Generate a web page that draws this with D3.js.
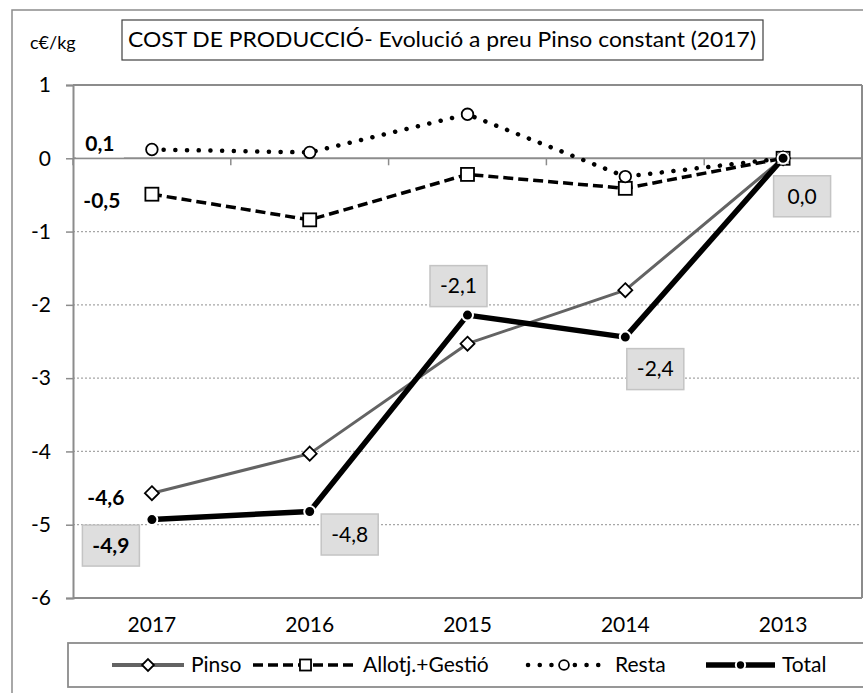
<!DOCTYPE html>
<html>
<head>
<meta charset="utf-8">
<script src="https://cdn.jsdelivr.net/npm/d3@7"></script>
<style>
  html, body { margin: 0; padding: 0; background: #fff; }
  svg { display: block; font-family: Lato, "Open Sans", sans-serif; }
</style>
</head>
<body>
<svg id="chart" width="863" height="693"></svg>
<script>
// ---- Data ----
const categories = ["2017", "2016", "2015", "2014", "2013"];
const pinso  = [-4.57, -4.03, -2.53, -1.80, 0.0];
const allotj = [-0.49, -0.84, -0.22, -0.41, 0.0];
const resta  = [0.12, 0.08, 0.60, -0.25, 0.0];
const total  = [-4.93, -4.82, -2.14, -2.44, 0.0];
const yTicks = [1, 0, -1, -2, -3, -4, -5, -6];
const seriesNames = ["Pinso", "Allotj.+Gestió", "Resta", "Total"];
const titleText = "COST DE PRODUCCIÓ- Evolució a preu Pinso constant (2017)";
const unitText = "c€/kg";

// ---- Layout ----
const svg = d3.select("#chart");
const plot = { left: 73, right: 862, top: 85, bottom: 598 };

const x = d3.scaleBand().domain(categories).range([plot.left, plot.right]).paddingInner(0).paddingOuter(0);
const cx = c => x(c) + x.bandwidth() / 2;
const y = d3.scaleLinear().domain([-6, 1]).range([plot.bottom, plot.top]);

const fmt = v => d3.format(".1f")(v).replace(".", ",").replace("−", "-");

// outer border
svg.append("rect").attr("x", 12).attr("y", 10).attr("width", 900).attr("height", 720)
  .attr("fill", "none").attr("stroke", "#8c8c8c").attr("stroke-width", 1.5);

// title box
svg.append("rect").attr("x", 122).attr("y", 20).attr("width", 641).attr("height", 40)
  .attr("fill", "#fff").attr("stroke", "#404040").attr("stroke-width", 1.2);
svg.append("text").attr("x", 128).attr("y", 40).attr("dy", "0.35em")
  .attr("font-size", 21).attr("textLength", 628).attr("lengthAdjust", "spacingAndGlyphs")
  .attr("fill", "#000").text(titleText);

// unit label
svg.append("text").attr("x", 30).attr("y", 43).attr("dy", "0.35em")
  .attr("font-size", 18).attr("fill", "#000").text(unitText);

// gridlines (dotted) for interior ticks
const gridG = svg.append("g");
yTicks.filter(t => t !== 0 && t !== 1 && t !== -6).forEach(t => {
  gridG.append("line").attr("x1", plot.left).attr("x2", plot.right)
    .attr("y1", y(t)).attr("y2", y(t))
    .attr("stroke", "#a6a6a6").attr("stroke-width", 1.2).attr("stroke-dasharray", "2,2");
});
// top and bottom solid lines
[1, -6].forEach(t => {
  gridG.append("line").attr("x1", plot.left).attr("x2", plot.right)
    .attr("y1", y(t)).attr("y2", y(t))
    .attr("stroke", "#8c8c8c").attr("stroke-width", 2);
});
// right border
gridG.append("line").attr("x1", plot.right).attr("x2", plot.right)
  .attr("y1", y(1)).attr("y2", y(-6)).attr("stroke", "#8c8c8c").attr("stroke-width", 2);

// y axis
const yAxis = d3.axisLeft(y).tickValues(yTicks).tickSize(7).tickFormat(d => String(d).replace("−", "-"));
const yAxisG = svg.append("g").attr("transform", `translate(${plot.left},0)`).call(yAxis);
yAxisG.select(".domain").attr("stroke", "#8c8c8c").attr("stroke-width", 2);
yAxisG.selectAll(".tick line").attr("stroke", "#8c8c8c").attr("stroke-width", 1.5);
yAxisG.selectAll(".tick text").attr("font-size", 21).attr("font-family", "Lato").attr("fill", "#000")
  .attr("x", -22);

// x axis at 0 with boundary ticks
const xAxisLine = svg.append("g");
xAxisLine.append("line").attr("x1", plot.left).attr("x2", plot.right)
  .attr("y1", y(0)).attr("y2", y(0)).attr("stroke", "#8c8c8c").attr("stroke-width", 2);
categories.forEach(c => {
  xAxisLine.append("line").attr("x1", x(c)).attr("x2", x(c))
    .attr("y1", y(0)).attr("y2", y(0) + 7).attr("stroke", "#8c8c8c").attr("stroke-width", 1.5);
});
// category labels at bottom
const xAxis = d3.axisBottom(x).tickSize(0);
const xAxisG = svg.append("g").attr("transform", `translate(0,${plot.bottom})`).call(xAxis);
xAxisG.select(".domain").remove();
xAxisG.selectAll(".tick text").attr("font-size", 21).attr("font-family", "Lato").attr("fill", "#000")
  .attr("y", 19);

// ---- Series ----
const seriesData = [
  { name: seriesNames[0], values: pinso },
  { name: seriesNames[1], values: allotj },
  { name: seriesNames[2], values: resta },
  { name: seriesNames[3], values: total }
];
const styles = {
  "Pinso": { stroke: "#636363", width: 3, dash: null, cap: "butt" },
  "Allotj.+Gestió": { stroke: "#000", width: 3.5, dash: "10,5", cap: "butt" },
  "Resta": { stroke: "#000", width: 4.5, dash: "0.1,11.6", cap: "round" },
  "Total": { stroke: "#000", width: 5.5, dash: null, cap: "butt" }
};

const line = d3.line().x((d, i) => cx(categories[i])).y(d => y(d));

function drawMarker(g, name, px, py, scale) {
  const s = scale || 1;
  if (name === "Pinso") {
    const r = 7 * s;
    g.append("path").attr("d", `M${px},${py - r}L${px + r},${py}L${px},${py + r}L${px - r},${py}Z`)
      .attr("fill", "#fff").attr("stroke", "#000").attr("stroke-width", 1.8);
  } else if (name === "Allotj.+Gestió") {
    const h = 6.5 * s;
    g.append("rect").attr("x", px - h).attr("y", py - h).attr("width", 2 * h).attr("height", 2 * h)
      .attr("fill", "#fff").attr("stroke", "#000").attr("stroke-width", 1.8);
  } else if (name === "Resta") {
    g.append("circle").attr("cx", px).attr("cy", py).attr("r", 5.8 * s)
      .attr("fill", "#fff").attr("stroke", "#000").attr("stroke-width", 1.8);
  } else {
    g.append("circle").attr("cx", px).attr("cy", py).attr("r", 5.5 * s)
      .attr("fill", "#000").attr("stroke", "#fff").attr("stroke-width", 2);
  }
}

const seriesG = svg.append("g");
seriesData.forEach(s => {
  const st = styles[s.name];
  seriesG.append("path").datum(s.values).attr("d", line)
    .attr("fill", "none").attr("stroke", st.stroke).attr("stroke-width", st.width)
    .attr("stroke-dasharray", st.dash).attr("stroke-linecap", st.cap).attr("stroke-linejoin", "round");
});
seriesData.forEach(s => {
  const g = seriesG.append("g");
  s.values.forEach((v, i) => drawMarker(g, s.name, cx(categories[i]), y(v)));
});

// ---- Data labels ----
const labelG = svg.append("g");
const plainLabels = [
  { values: resta, i: 0, dx: -52, dy: -6, white: true },
  { values: allotj, i: 0, dx: -50, dy: 6, white: false },
  { values: pinso, i: 0, dx: -46, dy: 4, white: false }
];
plainLabels.forEach(l => {
  const px = cx(categories[l.i]) + l.dx, py = y(l.values[l.i]) + l.dy;
  if (l.white) {
    labelG.append("rect").attr("x", px - 24).attr("y", py - 14).attr("width", 48).attr("height", 28).attr("fill", "#fff");
  }
  labelG.append("text").attr("x", px).attr("y", py).attr("dy", "0.35em")
    .attr("text-anchor", "middle").attr("font-size", 21).attr("font-weight", "bold").attr("fill", "#000")
    .text(fmt(l.values[l.i]));
});
const totalLabelOffsets = [
  { dx: -41, dy: 26, bold: true },
  { dx: 40, dy: 23, bold: false },
  { dx: -9, dy: -29, bold: false },
  { dx: 30, dy: 32, bold: false },
  { dx: 19, dy: 38, bold: false }
];
total.forEach((v, i) => {
  const o = totalLabelOffsets[i];
  const px = cx(categories[i]) + o.dx, py = y(v) + o.dy;
  labelG.append("rect").attr("x", px - 28.5).attr("y", py - 20.5).attr("width", 57).attr("height", 41)
    .attr("fill", "#dedede").attr("stroke", "#c4c4c4").attr("stroke-width", 1.5);
  labelG.append("text").attr("x", px).attr("y", py).attr("dy", "0.35em")
    .attr("text-anchor", "middle").attr("font-size", 21).attr("font-weight", o.bold ? "bold" : "normal")
    .attr("fill", "#000").text(fmt(v));
});

// ---- Legend ----
const legG = svg.append("g");
legG.append("rect").attr("x", 68).attr("y", 643).attr("width", 850).attr("height", 44)
  .attr("fill", "#fff").attr("stroke", "#8c8c8c").attr("stroke-width", 1.8);
const legendItems = [
  { name: seriesNames[0], x1: 112, x2: 184, tx: 191 },
  { name: seriesNames[1], x1: 253, x2: 358, tx: 363 },
  { name: seriesNames[2], x1: 528, x2: 600, tx: 615 },
  { name: seriesNames[3], x1: 706, x2: 775, tx: 782 }
];
const ly = 665;
legendItems.forEach(it => {
  const st = styles[it.name];
  legG.append("line").attr("x1", it.x1).attr("x2", it.x2).attr("y1", ly).attr("y2", ly)
    .attr("stroke", st.stroke).attr("stroke-width", it.name === "Pinso" ? 4 : st.width)
    .attr("stroke-dasharray", st.dash).attr("stroke-linecap", st.cap);
  drawMarker(legG, it.name, (it.x1 + it.x2) / 2, ly, 0.85);
  legG.append("text").attr("x", it.tx).attr("y", ly).attr("dy", "0.35em")
    .attr("font-size", 21).attr("fill", "#000").text(it.name);
});
</script>
</body>
</html>
